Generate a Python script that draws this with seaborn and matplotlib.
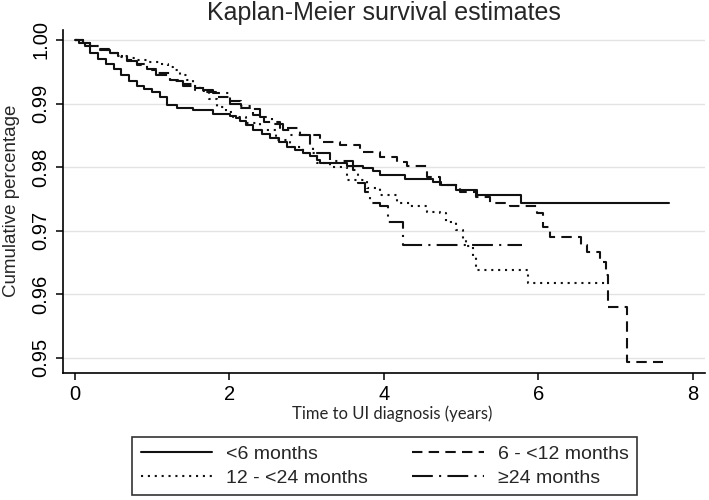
"""Kaplan-Meier survival estimates by group (Stata-like look)."""

import matplotlib
matplotlib.use("Agg")
import matplotlib.pyplot as plt
import pandas as pd
import seaborn as sns

# ---- data ----
groups = ["<6 months", "6 - <12 months", "12 - <24 months", "\u226524 months"]

t_lt6 = [0, 0.05, 0.13, 0.20, 0.30, 0.40, 0.50, 0.60, 0.70, 0.80, 0.90, 1.00,
         1.10, 1.19, 1.32, 1.53, 1.79, 2.01, 2.08, 2.14, 2.22, 2.31, 2.42, 2.53,
         2.64, 2.74, 2.85, 2.95, 3.05, 3.13, 3.17, 3.52, 3.73, 3.86, 3.95, 4.27,
         4.64, 4.74, 4.94, 5.21, 5.78, 7.69]
s_lt6 = [1.0, 0.9995, 0.9990, 0.9980, 0.9970, 0.9962, 0.9954, 0.9945, 0.9936,
         0.9928, 0.9923, 0.9918, 0.9910, 0.9898, 0.9893, 0.9890, 0.9884, 0.9881,
         0.9877, 0.9873, 0.9866, 0.9858, 0.9852, 0.9846, 0.9839, 0.9832, 0.9827,
         0.9822, 0.9817, 0.9811, 0.9806, 0.9802, 0.9798, 0.9794, 0.9787, 0.9782,
         0.9777, 0.9772, 0.9764, 0.9756, 0.9744, 0.9744]

t_6_12 = [0, 0.10, 0.20, 0.32, 0.45, 0.56, 0.67, 0.80, 0.93, 1.05, 1.23, 1.40,
          1.55, 1.70, 1.85, 2.00, 2.15, 2.30, 2.45, 2.65, 2.91, 3.17, 3.43, 3.69,
          3.95, 4.17, 4.30, 4.56, 4.73, 4.99, 5.20, 5.38, 5.63, 5.98, 6.06, 6.15,
          6.56, 6.63, 6.80, 6.88, 6.91, 7.15, 7.62]
s_6_12 = [1.0, 0.9995, 0.9990, 0.9986, 0.9980, 0.9974, 0.9968, 0.9962, 0.9955,
          0.9948, 0.9937, 0.9930, 0.9925, 0.9918, 0.9911, 0.9904, 0.9893, 0.9882,
          0.9871, 0.9861, 0.9850, 0.9840, 0.9835, 0.9824, 0.9816, 0.9808, 0.9801,
          0.9785, 0.9772, 0.9761, 0.9753, 0.9743, 0.9738, 0.9728, 0.9706, 0.9690,
          0.9677, 0.9667, 0.9651, 0.9630, 0.9580, 0.9494, 0.9494]

t_12_24 = [0, 0.10, 0.20, 0.32, 0.45, 0.56, 0.67, 0.80, 0.93, 1.10, 1.20, 1.27,
           1.36, 1.45, 1.53, 1.62, 1.73, 1.84, 1.95, 2.05, 2.22, 2.40, 2.61, 2.78,
           2.95, 3.13, 3.30, 3.52, 3.78, 3.95, 4.17, 4.34, 4.56, 4.73, 4.81, 4.94,
           5.03, 5.07, 5.16, 5.20, 5.87, 6.90]
s_12_24 = [1.0, 0.9995, 0.9990, 0.9985, 0.9979, 0.9974, 0.9971, 0.9968, 0.9966,
           0.9962, 0.9957, 0.9953, 0.9945, 0.9937, 0.9928, 0.9919, 0.9907, 0.9895,
           0.9886, 0.9879, 0.9869, 0.9858, 0.9843, 0.9832, 0.9822, 0.9806, 0.9800,
           0.9780, 0.9767, 0.9756, 0.9743, 0.9738, 0.9730, 0.9727, 0.9714, 0.9701,
           0.9687, 0.9675, 0.9659, 0.9638, 0.9617, 0.9617]

t_ge24 = [0, 0.10, 0.20, 0.32, 0.45, 0.56, 0.67, 0.80, 0.93, 1.05, 1.23, 1.40,
          1.55, 1.79, 2.01, 2.15, 2.31, 2.40, 2.55, 2.69, 2.78, 3.04, 3.08, 3.30,
          3.60, 3.67, 3.75, 3.82, 3.95, 4.05, 4.25, 5.79]
s_ge24 = [1.0, 0.9996, 0.9991, 0.9985, 0.9979, 0.9973, 0.9967, 0.9960, 0.9952,
          0.9945, 0.9935, 0.9928, 0.9922, 0.9916, 0.9900, 0.9896, 0.9892, 0.9879,
          0.9868, 0.9859, 0.9850, 0.9832, 0.9822, 0.9810, 0.9795, 0.9775, 0.9761,
          0.9743, 0.9738, 0.9714, 0.9677, 0.9677]

x_ticks = [0, 2, 4, 6, 8]
y_ticks = [0.95, 0.96, 0.97, 0.98, 0.99, 1.00]

series = {
    groups[0]: (t_lt6, s_lt6),
    groups[1]: (t_6_12, s_6_12),
    groups[2]: (t_12_24, s_12_24),
    groups[3]: (t_ge24, s_ge24),
}
df = pd.concat(
    [pd.DataFrame({"time": t, "surv": s, "group": g}) for g, (t, s) in series.items()],
    ignore_index=True,
)

styles = {
    groups[0]: "-",
    groups[1]: (0, (5, 3)),
    groups[2]: (0, (1, 2.3)),
    groups[3]: (0, (10, 3, 1, 3)),
}

sns.set_theme(style="white")
plt.rcParams["font.family"] = ["Liberation Sans", "DejaVu Sans"]

fig = plt.figure(figsize=(7.09, 5.0), dpi=100)
ax = fig.add_axes([63 / 709, 1 - 372.7 / 500, 642 / 709, 342.7 / 500])

for g in groups:
    sns.lineplot(data=df[df["group"] == g], x="time", y="surv", color="#111111",
                 linestyle=styles[g], linewidth=1.5, drawstyle="steps-post",
                 estimator=None, sort=False, label=g, ax=ax)

ax.set_xlim(-0.155, 8.16)
ax.set_ylim(0.94764, 1.00157)
ax.set_xticks(x_ticks)
ax.set_yticks(y_ticks)
ax.set_yticklabels([f"{v:.2f}" for v in y_ticks], rotation=90, va="center")
ax.tick_params(axis="both", direction="out", length=5, width=1.1, color="black",
               bottom=True, left=True, labelcolor="black")
ax.tick_params(axis="y", labelsize=14.5, pad=4)
ax.tick_params(axis="x", labelsize=14.5, pad=4)

ax.yaxis.grid(True, color="#e3e3e3", linewidth=1)
ax.xaxis.grid(False)
for side in ["top", "right"]:
    ax.spines[side].set_visible(False)
for side in ["left", "bottom"]:
    ax.spines[side].set_color("black")
    ax.spines[side].set_linewidth(1.2)

ax.set_xlabel("")
ax.set_ylabel("")
fig.text(384 / 709, 0.96, "Kaplan-Meier survival estimates", ha="center",
         va="baseline", fontsize=18)
fig.text(12 / 709, 1 - 201 / 500, "Cumulative percentage", rotation=90,
         ha="center", va="center", fontsize=13.5)
fig.text(392 / 709, 1 - 414 / 500, "Time to UI diagnosis (years)", ha="center",
         va="center", fontsize=12, family=["Lato", "DejaVu Sans"])

handles, labels = ax.get_legend_handles_labels()
order = [0, 2, 1, 3]  # rows: <6 | 6-<12, then 12-<24 | >=24
leg = ax.legend([handles[i] for i in order], [labels[i] for i in order],
                ncol=2, loc="center",
                bbox_to_anchor=(384.5 / 709, 1 - 466 / 500),
                bbox_transform=fig.transFigure, fontsize=14, frameon=True,
                fancybox=False, edgecolor="black", handlelength=3.66,
                handletextpad=0.72, columnspacing=2.3, borderpad=0.45,
                labelspacing=0.3)
leg.get_frame().set_linewidth(1.2)

fig.savefig("out.png", dpi=100)
